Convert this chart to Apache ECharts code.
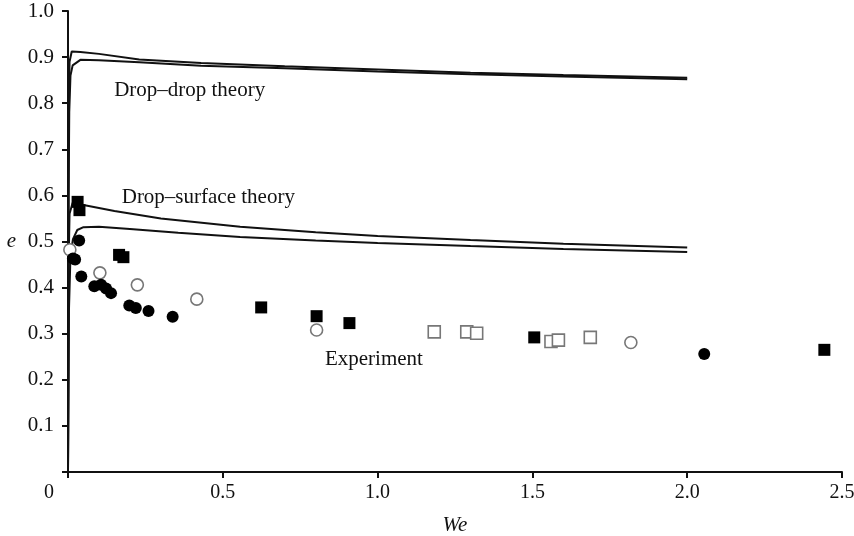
<!DOCTYPE html>
<html>
<head>
<meta charset="utf-8">
<script src="https://cdn.jsdelivr.net/npm/echarts@6/dist/echarts.min.js"></script>
<style>html,body{margin:0;padding:0;background:#fff}#c{width:854px;height:536px}</style>
</head>
<body>
<div id="c"></div>
<script>
// Axis ticks
const xTicks = [0, 0.5, 1.0, 1.5, 2.0, 2.5];
const yTicks = [0.1, 0.2, 0.3, 0.4, 0.5, 0.6, 0.7, 0.8, 0.9, 1.0];

// Theory curves [We, e]
const dropDropUpper = [[0,0],[0.002,0.75],[0.005,0.89],[0.012,0.912],[0.04,0.911],[0.1,0.907],[0.23,0.895],[0.43,0.887],[0.7,0.88],[1.0,0.873],[1.3,0.866],[1.6,0.861],[2.0,0.855]];
const dropDropLower = [[0,0],[0.002,0.6],[0.004,0.78],[0.008,0.86],[0.015,0.882],[0.04,0.894],[0.1,0.893],[0.23,0.889],[0.43,0.881],[0.7,0.876],[1.0,0.869],[1.3,0.863],[1.6,0.858],[2.0,0.852]];
const dropSurfUpper = [[0,0],[0.002,0.45],[0.005,0.56],[0.015,0.584],[0.05,0.579],[0.15,0.566],[0.3,0.55],[0.556,0.532],[0.8,0.52],[1.0,0.512],[1.3,0.503],[1.6,0.495],[2.0,0.487]];
const dropSurfLower = [[0,0],[0.003,0.35],[0.008,0.47],[0.016,0.505],[0.03,0.525],[0.05,0.531],[0.1,0.532],[0.2,0.527],[0.356,0.519],[0.556,0.51],[0.8,0.502],[1.0,0.497],[1.3,0.49],[1.6,0.484],[2.0,0.477]];

// Experimental points [We, e]
const filledCircles = [[0.036,0.502],[0.023,0.461],[0.016,0.463],[0.043,0.424],[0.085,0.403],[0.107,0.406],[0.123,0.398],[0.139,0.388],[0.198,0.361],[0.219,0.356],[0.26,0.349],[0.338,0.337],[2.055,0.256]];
const filledSquares = [[0.031,0.586],[0.037,0.568],[0.165,0.471],[0.179,0.466],[0.624,0.357],[0.803,0.338],[0.909,0.323],[1.506,0.292],[2.443,0.265]];
const openCircles = [[0.006,0.482],[0.103,0.432],[0.224,0.406],[0.416,0.375],[0.803,0.308],[1.818,0.281]];
const openSquares = [[1.183,0.304],[1.288,0.304],[1.32,0.301],[1.56,0.283],[1.584,0.286],[1.687,0.292]];

const FONT = 'Liberation Serif';
const chart = echarts.init(document.getElementById('c'));

function lineSeries(data) {
  return { type: 'line', data: data, symbol: 'none', smooth: false, z: 3,
    lineStyle: { color: '#111', width: 2 } };
}
function scatterSeries(data, symbol, filled) {
  return { type: 'scatter', data: data, symbol: symbol, symbolSize: 12, z: 4,
    itemStyle: filled ? { color: '#000', opacity: 1 } : { color: '#fff', borderColor: '#777', borderWidth: 1.6, opacity: 1 } };
}

chart.setOption({
  animation: false,
  backgroundColor: '#fff',
  grid: { left: 68, right: 12, top: 11, bottom: 64, containLabel: false, outerBoundsMode: 'none' },
  xAxis: {
    type: 'value', min: 0, max: 2.5, interval: 0.5,
    name: 'We', nameLocation: 'middle', nameGap: 43,
    nameTextStyle: { fontFamily: FONT, fontStyle: 'italic', fontSize: 21, color: '#111' },
    axisLine: { show: true, onZero: false, lineStyle: { color: '#111', width: 2 } },
    axisTick: { show: true, length: 6, lineStyle: { color: '#111', width: 2 } },
    splitLine: { show: false },
    axisLabel: {
      margin: 11, fontFamily: FONT, fontSize: 20, color: '#111',
      formatter: function (v) {
        if (v === 0) return '{z|0}';
        return v.toFixed(1);
      },
      rich: { z: { fontFamily: FONT, fontSize: 20, color: '#111', padding: [0, 38, 0, 0] } }
    }
  },
  yAxis: {
    type: 'value', min: 0, max: 1.0, interval: 0.1,
    name: 'e', nameLocation: 'middle', nameGap: 52, nameRotate: 0,
    nameTextStyle: { fontFamily: FONT, fontStyle: 'italic', fontSize: 21, color: '#111' },
    axisLine: { show: true, onZero: false, lineStyle: { color: '#111', width: 2 } },
    axisTick: { show: true, length: 6, lineStyle: { color: '#111', width: 2 } },
    splitLine: { show: false },
    axisLabel: {
      margin: 14, fontFamily: FONT, fontSize: 21, color: '#111',
      formatter: function (v) {
        const t = Math.round(v * 10) / 10;
        return yTicks.indexOf(t) >= 0 ? t.toFixed(1) : '';
      }
    }
  },
  series: [
    lineSeries(dropDropUpper), lineSeries(dropDropLower),
    lineSeries(dropSurfUpper), lineSeries(dropSurfLower),
    scatterSeries(openCircles, 'circle', false),
    scatterSeries(openSquares, 'rect', false),
    scatterSeries(filledCircles, 'circle', true),
    scatterSeries(filledSquares, 'rect', true)
  ]
});

const notes = [
  { text: 'Drop\u2013drop theory', at: [0.149, 0.828] },
  { text: 'Drop\u2013surface theory', at: [0.1735, 0.5965] },
  { text: 'Experiment', at: [0.830, 0.243] }
];
chart.setOption({
  graphic: notes.map(function (n) {
    const p = chart.convertToPixel({ gridIndex: 0 }, n.at);
    return { type: 'text', x: p[0], y: p[1], z: 10,
      style: { text: n.text, fontFamily: FONT, fontSize: 21, fill: '#111', align: 'left', verticalAlign: 'middle' } };
  })
});
</script>
</body>
</html>
